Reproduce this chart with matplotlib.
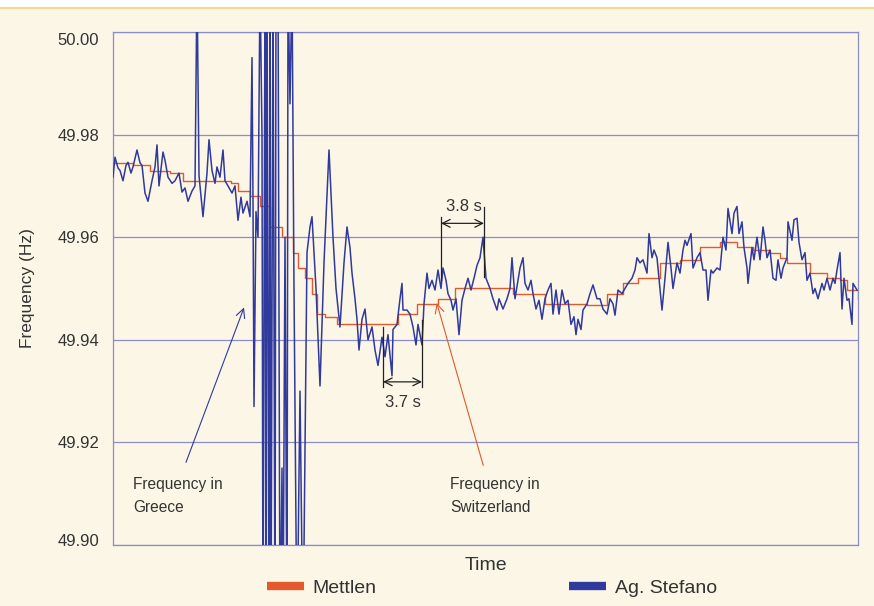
import matplotlib.pyplot as plt
import numpy as np
from matplotlib.lines import Line2D
from matplotlib.patches import Rectangle
from matplotlib.transforms import ScaledTranslation

# czas w sekundach, czestotliwosc w Hz
t_stefano = [
    0.0, 0.2, 0.5, 0.7, 1.0, 1.3, 1.5, 1.8, 2.0, 2.4, 2.7, 2.9, 3.2, 3.5, 3.9, 4.2, 4.4, 4.6, 5.0, 5.2,
    5.5, 5.9, 6.2, 6.6, 6.9, 7.2, 7.5, 7.9, 8.2, 8.4, 8.6, 8.9, 9.0, 9.4, 9.6, 9.9, 10.2, 10.4, 10.7, 11.0,
    11.2, 11.5, 11.9, 12.2, 12.5, 12.8, 13.0, 13.4, 13.7, 13.9, 14.0, 14.1, 14.3, 14.5, 14.7, 14.9, 15.0, 15.2, 15.3, 15.4,
    15.6, 15.7, 15.8, 16.0, 16.2, 16.3, 16.5, 16.7, 16.9, 17.0, 17.2, 17.4, 17.5, 17.7, 17.9, 18.1, 18.4, 18.7, 19.0, 19.4,
    19.7, 19.9, 20.3, 20.7, 21.1, 21.6, 22.0, 22.3, 22.7, 23.1, 23.4, 23.7, 23.9, 24.2, 24.4, 24.6, 24.9, 25.2, 25.5, 25.9,
    26.2, 26.5, 26.9, 27.2, 27.5, 27.9, 28.0, 28.4, 28.7, 28.9, 29.0, 29.4, 29.7, 30.0, 30.3, 30.5, 30.9, 31.1, 31.4, 31.6,
    31.9, 32.2, 32.5, 32.8, 33.0, 33.3, 33.5, 33.8, 34.0, 34.3, 34.6, 34.9, 35.2, 35.5, 35.8, 36.1, 36.4, 36.7, 37.0, 37.3,
    37.7, 38.0, 38.4, 38.6, 39.0, 39.4, 39.7, 39.9, 40.2, 40.5, 40.7, 41.0, 41.2, 41.5, 41.8, 42.0, 42.3, 42.6, 42.9, 43.2,
    43.5, 43.8, 44.0, 44.3, 44.6, 44.9, 45.2, 45.5, 45.8, 46.1, 46.3, 46.5, 46.8, 47.0, 47.4, 47.7, 48.0, 48.4, 48.7, 49.0,
    49.4, 49.7, 50.0, 50.2, 50.5, 50.9, 51.2, 51.5, 51.9, 52.2, 52.4, 52.7, 53.0, 53.4, 53.6, 53.9, 54.1, 54.4, 54.7, 54.9,
    55.2, 55.5, 55.8, 56.0, 56.4, 56.7, 57.0, 57.2, 57.4, 57.8, 58.0, 58.4, 58.7, 59.0, 59.3, 59.5, 59.8, 60.0, 60.4, 60.7,
    61.0, 61.3, 61.5, 61.9, 62.1, 62.4, 62.6, 62.9, 63.1, 63.4, 63.5, 63.9, 64.1, 64.4, 64.7, 65.0, 65.2, 65.4, 65.7, 66.0,
    66.3, 66.5, 66.8, 67.0, 67.4, 67.5, 67.9, 68.1, 68.4, 68.6, 68.9, 69.2, 69.4, 69.7, 70.0, 70.2, 70.5, 70.9, 71.1, 71.4,
    71.7, 72.0, 72.2, 72.4, 72.7, 72.9, 73.1, 73.4, 73.6, 73.9, 74.0, 74.4,
]
f_stefano = [
    49.9717, 49.9756, 49.9735, 49.9730, 49.9710, 49.9740, 49.9746, 49.9725, 49.9737, 49.9770, 49.9745, 49.9740, 49.9686, 49.9670, 49.9710, 49.9737, 49.9780, 49.9700, 49.9766, 49.9750,
    49.9717, 49.9705, 49.9710, 49.9725, 49.9688, 49.9696, 49.9670, 49.9690, 49.9700, 50.0100, 49.9720, 49.9660, 49.9640, 49.9725, 49.9790, 49.9730, 49.9705, 49.9737, 49.9717, 49.9770,
    49.9710, 49.9700, 49.9686, 49.9700, 49.9633, 49.9678, 49.9647, 49.9670, 49.9640, 49.9950, 49.9670, 49.9270, 49.9650, 49.9600, 50.0100, 49.9800, 49.8800, 50.0100, 49.8800, 50.0100,
    49.8800, 50.0100, 49.8800, 50.0100, 49.8800, 50.0100, 50.0100, 49.8800, 49.9150, 49.8800, 49.9600, 49.8800, 50.0100, 49.9860, 50.0100, 49.9500, 49.8800, 49.9300, 49.8800, 49.9570,
    49.9620, 49.9640, 49.9500, 49.9310, 49.9550, 49.9770, 49.9600, 49.9500, 49.9425, 49.9550, 49.9620, 49.9580, 49.9530, 49.9480, 49.9440, 49.9380, 49.9440, 49.9460, 49.9400, 49.9425,
    49.9380, 49.9350, 49.9405, 49.9367, 49.9410, 49.9330, 49.9420, 49.9430, 49.9480, 49.9510, 49.9458, 49.9458, 49.9450, 49.9425, 49.9390, 49.9430, 49.9390, 49.9470, 49.9530, 49.9500,
    49.9516, 49.9497, 49.9536, 49.9500, 49.9540, 49.9516, 49.9490, 49.9477, 49.9458, 49.9480, 49.9410, 49.9477, 49.9500, 49.9520, 49.9497, 49.9520, 49.9545, 49.9560, 49.9600, 49.9520,
    49.9500, 49.9480, 49.9458, 49.9480, 49.9460, 49.9480, 49.9500, 49.9560, 49.9480, 49.9516, 49.9540, 49.9560, 49.9510, 49.9497, 49.9516, 49.9490, 49.9460, 49.9477, 49.9440, 49.9480,
    49.9497, 49.9510, 49.9450, 49.9497, 49.9450, 49.9497, 49.9470, 49.9477, 49.9430, 49.9445, 49.9410, 49.9440, 49.9420, 49.9458, 49.9470, 49.9490, 49.9507, 49.9480, 49.9480, 49.9460,
    49.9450, 49.9480, 49.9470, 49.9448, 49.9497, 49.9490, 49.9500, 49.9510, 49.9520, 49.9536, 49.9560, 49.9550, 49.9556, 49.9530, 49.9607, 49.9560, 49.9575, 49.9560, 49.9500, 49.9458,
    49.9520, 49.9590, 49.9540, 49.9500, 49.9550, 49.9530, 49.9575, 49.9594, 49.9584, 49.9607, 49.9540, 49.9560, 49.9570, 49.9536, 49.9536, 49.9477, 49.9536, 49.9530, 49.9540, 49.9536,
    49.9600, 49.9575, 49.9656, 49.9607, 49.9647, 49.9660, 49.9607, 49.9630, 49.9580, 49.9540, 49.9510, 49.9580, 49.9556, 49.9600, 49.9556, 49.9620, 49.9594, 49.9560, 49.9575, 49.9520,
    49.9516, 49.9556, 49.9520, 49.9540, 49.9560, 49.9630, 49.9594, 49.9634, 49.9637, 49.9590, 49.9556, 49.9570, 49.9516, 49.9530, 49.9490, 49.9500, 49.9480, 49.9510, 49.9497, 49.9520,
    49.9497, 49.9520, 49.9510, 49.9536, 49.9570, 49.9460, 49.9520, 49.9477, 49.9480, 49.9430, 49.9510, 49.9497,
]

t_mettlen = [
    0.0, 2.0, 3.7, 5.7, 7.0, 11.8, 12.5, 13.7, 14.7, 15.7, 16.9, 18.0, 18.5, 19.2, 19.9, 20.4, 21.2, 22.4,
    28.5, 30.4, 32.5, 34.2, 40.0, 43.2, 47.4, 49.4, 51.0, 52.5, 54.7, 56.7, 58.7, 60.7, 62.4, 64.0,
    65.7, 66.7, 67.4, 69.7, 71.4, 72.7, 73.4, 74.5,
]
f_mettlen = [
    49.9745, 49.9740, 49.9730, 49.9725, 49.9710, 49.9705, 49.9690, 49.9680, 49.9660, 49.9620, 49.9600, 49.9570, 49.9540, 49.9520, 49.9490, 49.9450, 49.9445, 49.9430,
    49.9450, 49.9470, 49.9480, 49.9500, 49.9490, 49.9470, 49.9467, 49.9490, 49.9510, 49.9520, 49.9550, 49.9556, 49.9580, 49.9590, 49.9580, 49.9575,
    49.9570, 49.9560, 49.9550, 49.9530, 49.9520, 49.9516, 49.9497, 49.9480,
]

y_ticks = [49.90, 49.92, 49.94, 49.96, 49.98, 50.00]

kolor_tla = "#FCF6E7"
kolor_siatki = "#8C8CCB"
kolor_niebieski = "#2F3A9C"
kolor_pomaranczowy = "#E2592E"
kolor_tekstu = "#333333"

plt.rcParams["font.family"] = ["Liberation Sans", "DejaVu Sans"]

fig = plt.figure(figsize=(8.74, 6.06), dpi=100, facecolor=kolor_tla)
ax = fig.add_axes([113 / 874, 1 - 545 / 606, 745 / 874, 513 / 606])
ax.set_facecolor(kolor_tla)

# pasek u gory
fig.patches.append(Rectangle((0, 1 - 8 / 606), 1, 8 / 606, transform=fig.transFigure, color="white", zorder=0))
fig.lines.append(Line2D([0, 1], [1 - 8 / 606, 1 - 8 / 606], transform=fig.transFigure, color="#F6D98C", lw=1.5))

ax.plot(t_mettlen, f_mettlen, color=kolor_pomaranczowy, lw=1.0, drawstyle="steps-post", zorder=3)
ax.plot(t_stefano, f_stefano, color=kolor_niebieski, lw=1.1, zorder=4)

ax.set_xlim(0, 74.5)
ax.set_ylim(49.90, 50.00)
ax.set_yticks(y_ticks)
ax.set_yticklabels(["%.2f" % v for v in y_ticks])
ax.set_xticks([])
ax.tick_params(axis="y", length=0, pad=10, labelsize=12, labelcolor=kolor_tekstu)
ax.grid(axis="y", color=kolor_siatki, lw=0.9)
ax.set_axisbelow(True)
for s in ax.spines.values():
    s.set_color(kolor_siatki)
    s.set_linewidth(0.9)

# skrajne etykiety przesuniete do srodka jak w oryginale
etykiety = ax.get_yticklabels()
etykiety[0].set_transform(etykiety[0].get_transform() + ScaledTranslation(0, 5 / 100, fig.dpi_scale_trans))
etykiety[-1].set_transform(etykiety[-1].get_transform() + ScaledTranslation(0, -7 / 100, fig.dpi_scale_trans))

ax.set_ylabel("Frequency (Hz)", fontsize=12.5, color=kolor_tekstu, labelpad=16)
ax.set_xlabel("Time", fontsize=14, color=kolor_tekstu, labelpad=9)

# adnotacje
ax.text(2.0, 49.9133, "Frequency in\nGreece", fontsize=11.2, color=kolor_tekstu, va="top", ha="left", linespacing=1.7)
ax.text(33.7, 49.9133, "Frequency in\nSwitzerland", fontsize=11.2, color=kolor_tekstu, va="top", ha="left", linespacing=1.7)
ax.annotate("", xy=(13.2, 49.9468), xytext=(7.2, 49.9156),
            arrowprops=dict(arrowstyle="->", color=kolor_niebieski, lw=0.8, mutation_scale=16))
ax.annotate("", xy=(32.3, 49.9477), xytext=(37.1, 49.9150),
            arrowprops=dict(arrowstyle="->", color=kolor_pomaranczowy, lw=0.8, mutation_scale=16))

# 3.8 s
ax.plot([32.8, 32.8], [49.9639, 49.9516], color="#222222", lw=0.9, zorder=5)
ax.plot([37.1, 37.1], [49.9659, 49.9522], color="#222222", lw=0.9, zorder=5)
ax.annotate("", xy=(32.8, 49.9627), xytext=(37.1, 49.9627),
            arrowprops=dict(arrowstyle="<->", color="#222222", lw=0.9, mutation_scale=14, shrinkA=0, shrinkB=0))
ax.text(35.1, 49.9660, "3.8 s", fontsize=12, color=kolor_tekstu, ha="center", va="center")

# 3.7 s
ax.plot([27.0, 27.0], [49.9425, 49.9308], color="#222222", lw=0.9, zorder=5)
ax.plot([30.9, 30.9], [49.9438, 49.9308], color="#222222", lw=0.9, zorder=5)
ax.annotate("", xy=(27.0, 49.9318), xytext=(30.9, 49.9318),
            arrowprops=dict(arrowstyle="<->", color="#222222", lw=0.9, mutation_scale=14, shrinkA=0, shrinkB=0))
ax.text(28.95, 49.9278, "3.7 s", fontsize=12, color=kolor_tekstu, ha="center", va="center")

uchwyty = [Line2D([], [], color=kolor_pomaranczowy, lw=6, solid_capstyle="butt"),
           Line2D([], [], color=kolor_niebieski, lw=6, solid_capstyle="butt")]
fig.legend(uchwyty, ["Mettlen", "Ag. Stefano"], loc="center left", bbox_to_anchor=(267 / 874, 1 - 588 / 606),
           ncol=2, frameon=False, fontsize=14, handlelength=1.9, handletextpad=0.45, columnspacing=9.9,
           borderpad=0, borderaxespad=0, labelcolor=kolor_tekstu)

plt.savefig("out.png", dpi=100, facecolor=kolor_tla)
